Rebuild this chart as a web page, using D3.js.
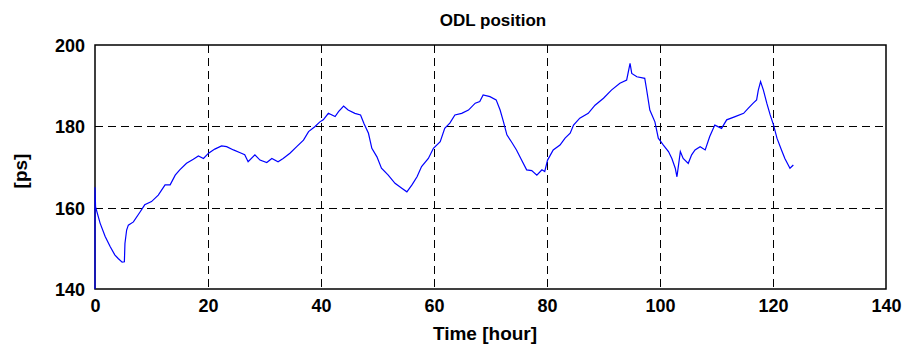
<!DOCTYPE html>
<html>
<head>
<meta charset="utf-8">
<script src="https://cdn.jsdelivr.net/npm/d3@7"></script>
<style>
  body { margin: 0; background: #fff; }
  text { font-family: "Liberation Sans", Arial, sans-serif; font-weight: bold; fill: #000; }
</style>
</head>
<body>
<svg id="chart" width="918" height="347"></svg>
<script>
// hours since start
const timeHours = [0, 0, 0.1, 0.9, 1.8, 2.7, 3.5, 4.1, 4.8, 5.2, 5.3, 5.6, 5.9, 6.8, 8.0, 8.8, 10.0, 11.2, 12.4, 13.3,
  14.2, 15.0, 16.2, 17.4, 18.3, 19.2, 20.1, 21.2, 22.4, 23.3, 24.5, 25.7, 26.5, 27.1, 28.3, 29.2, 30.4, 31.3, 32.4, 33.3,
  34.5, 35.7, 36.9, 37.8, 38.9, 39.8, 40.4, 41.3, 42.5, 43.1, 44.0, 44.8, 46.0, 47.0, 47.6, 48.4, 49.0, 49.9, 50.7, 51.9,
  53.1, 54.3, 55.2, 56.1, 57.0, 57.8, 59.0, 59.9, 61.1, 61.9, 62.8, 63.7, 64.9, 66.1, 67.3, 68.1, 68.7, 69.9, 71.0, 71.7,
  72.3, 72.9, 73.7, 74.6, 75.5, 76.4, 77.3, 78.2, 79.1, 79.6, 80.1, 81.1, 82.3, 83.2, 84.1, 84.7, 85.8, 87.3, 88.5, 90.0,
  91.4, 92.9, 94.1, 94.7, 95.0, 95.9, 97.3, 97.6, 98.2, 99.1, 99.7, 100.6, 101.5, 102.1, 102.7, 103.0, 103.6, 104.1, 105.0, 105.6,
  106.2, 107.1, 108.0, 108.8, 109.7, 110.9, 111.8, 113.3, 114.8, 115.6, 116.5, 117.1, 117.4, 117.8, 118.3, 118.9, 119.5, 120.1, 120.7, 121.5,
  122.1, 123.0, 123.6];

// ODL position [ps]
const odlPs = [140, 165, 160.2, 156.2, 152.9, 150.4, 148.4, 147.5, 146.6, 146.7, 151.2, 154.5, 155.7, 156.5, 159.0, 160.7, 161.5, 163.1, 165.6, 165.6,
  168.0, 169.3, 170.9, 171.9, 172.7, 172.1, 173.4, 174.4, 175.2, 175.0, 174.2, 173.5, 173.0, 171.3, 173.0, 171.7, 171.1, 172.1, 171.3, 172.1,
  173.4, 175.0, 176.6, 178.7, 179.9, 181.1, 181.6, 183.2, 182.4, 183.6, 185.0, 184.0, 183.2, 182.8, 180.7, 178.3, 174.6, 172.5, 169.7, 168.0,
  166.0, 164.8, 163.9, 165.6, 167.6, 170.1, 172.1, 174.6, 176.2, 179.5, 180.8, 182.8, 183.2, 184.0, 185.7, 186.1, 187.7, 187.3, 186.5, 184.0,
  181.1, 177.9, 176.2, 174.2, 171.7, 169.3, 169.1, 168.0, 169.3, 168.9, 171.7, 174.2, 175.4, 177.1, 178.3, 180.3, 182.0, 183.2, 185.2, 186.9,
  188.9, 190.6, 191.4, 195.5, 193.0, 192.2, 191.8, 189.3, 184.0, 181.1, 177.1, 175.4, 173.8, 172.1, 169.7, 167.6, 173.8, 172.1, 170.9, 173.0,
  174.2, 175.0, 174.2, 177.5, 180.3, 179.5, 181.6, 182.4, 183.2, 184.4, 185.7, 186.5, 188.9, 191.0, 188.9, 185.7, 182.8, 180.3, 177.1, 174.2,
  172.1, 169.7, 170.5];

const xTicks = [0, 20, 40, 60, 80, 100, 120, 140];
const yTicks = [140, 160, 180, 200];

const margin = { left: 95, right: 32, top: 45, bottom: 58 };
const width = 918, height = 347;

const svg = d3.select("#chart");

const x = d3.scaleLinear().domain([0, 140]).range([margin.left, width - margin.right]);
const y = d3.scaleLinear().domain([140, 200]).range([height - margin.bottom, margin.top]);

// grid
const grid = svg.append("g").attr("stroke", "#000").attr("stroke-width", 1).attr("stroke-dasharray", "8,5");
grid.selectAll(".gx").data(xTicks.slice(1, -1)).enter().append("line")
  .attr("x1", d => Math.round(x(d)) + 0.5).attr("x2", d => Math.round(x(d)) + 0.5)
  .attr("y1", y(200)).attr("y2", y(140));
grid.selectAll(".gy").data(yTicks.slice(1, -1)).enter().append("line")
  .attr("y1", d => Math.round(y(d)) + 0.5).attr("y2", d => Math.round(y(d)) + 0.5)
  .attr("x1", x(0)).attr("x2", x(140));

// frame
svg.append("rect")
  .attr("x", x(0)).attr("y", y(200))
  .attr("width", x(140) - x(0)).attr("height", y(140) - y(200))
  .attr("fill", "none").attr("stroke", "#000").attr("stroke-width", 1.5);

// axes
const xAxis = svg.append("g").attr("transform", `translate(0,${y(140)})`)
  .call(d3.axisBottom(x).tickValues(xTicks).tickSize(0).tickPadding(10));
const yAxis = svg.append("g").attr("transform", `translate(${x(0)},0)`)
  .call(d3.axisLeft(y).tickValues(yTicks).tickSize(0).tickPadding(10));
[xAxis, yAxis].forEach(a => {
  a.select(".domain").remove();
  a.selectAll("text").attr("font-size", 18).attr("font-family", "Liberation Sans, Arial, sans-serif").attr("font-weight", "bold").attr("fill", "#000");
});
yAxis.selectAll("text").attr("dy", "0.36em");

// trace
const line = d3.line().x((d, i) => x(timeHours[i])).y(d => y(d));
svg.append("path")
  .datum(odlPs)
  .attr("d", line)
  .attr("fill", "none")
  .attr("stroke", "#0000ff")
  .attr("stroke-width", 1.2);

// labels
svg.append("text").attr("x", 493).attr("y", 26).attr("text-anchor", "middle")
  .attr("font-size", 17).text("ODL position");
svg.append("text").attr("x", 485).attr("y", 340).attr("text-anchor", "middle")
  .attr("font-size", 19).text("Time [hour]");
svg.append("text").attr("transform", "translate(27,171) rotate(-90)").attr("text-anchor", "middle")
  .attr("font-size", 19).text("[ps]");
</script>
</body>
</html>
